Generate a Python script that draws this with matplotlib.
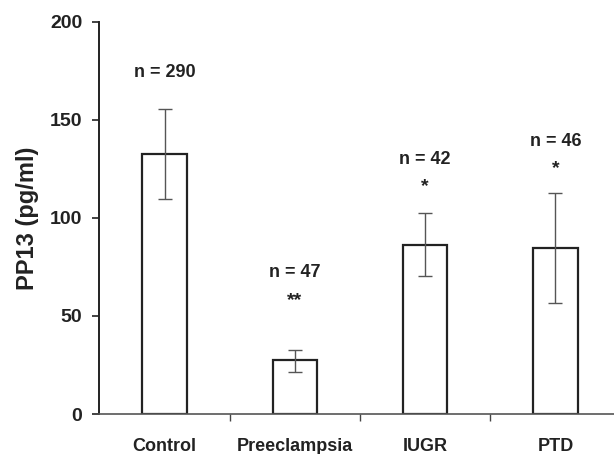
import matplotlib.pyplot as plt
import numpy as np

# data
groups = ['Control', 'Preeclampsia', 'IUGR', 'PTD']
means = [132.5, 27.5, 86.2, 84.9]
err_hi = [155.4, 32.7, 102.4, 112.9]
err_lo = [109.5, 21.6, 70.6, 56.8]
n_labels = ['n = 290', 'n = 47', 'n = 42', 'n = 46']
n_pos = [174, 72.4, 130, 139]
stars = ['', '**', '*', '*']
star_pos = [0, 58, 116, 125]

plt.rcParams['font.family'] = ['Liberation Sans', 'DejaVu Sans']

fig = plt.figure(figsize=(6.14, 4.54), dpi=100)
ax = fig.add_axes([0.161, 0.088, 0.839, 0.864])

x = np.arange(len(groups))
means_a = np.array(means)
yerr = [means_a - np.array(err_lo), np.array(err_hi) - means_a]

ax.bar(x, means, width=0.34, color='white', edgecolor='#222222', linewidth=1.6, zorder=2)
ax.errorbar(x, means, yerr=yerr, fmt='none', ecolor='#555555', elinewidth=1.0,
            capsize=5, capthick=1.0, zorder=3)

for xi, lab, yp in zip(x, n_labels, n_pos):
    ax.text(xi, yp, lab, ha='center', va='center', fontsize=13, fontweight='bold', color='#222222')
for xi, s, yp in zip(x, stars, star_pos):
    if s:
        ax.text(xi, yp, s, ha='center', va='center', fontsize=14, fontweight='bold', color='#222222')

ax.set_xlim(-0.505, 3.45)
ax.set_ylim(0, 200)
ax.set_yticks([0, 50, 100, 150, 200])
ax.set_xticks([0.5, 1.5, 2.5])
ax.set_xticklabels([])
ax.set_xticks(x, minor=True)
ax.set_xticklabels(groups, minor=True)
ax.tick_params(axis='x', which='minor', length=0, pad=17)
ax.tick_params(axis='x', which='major', length=5, direction='out', color='#444444', width=1)
ax.tick_params(axis='y', length=5, direction='out', color='#222222', width=1.2, pad=7)
for lab in ax.get_xticklabels(minor=True):
    lab.set_fontweight('bold')
    lab.set_fontsize(13)
    lab.set_color('#222222')
for lab in ax.get_yticklabels():
    lab.set_fontweight('bold')
    lab.set_fontsize(14)
    lab.set_color('#222222')

ax.spines['top'].set_visible(False)
ax.spines['right'].set_visible(False)
ax.spines['left'].set_color('#222222')
ax.spines['left'].set_linewidth(1.4)
ax.spines['bottom'].set_color('#555555')
ax.spines['bottom'].set_linewidth(1.2)

ax.set_ylabel('PP13 (pg/ml)', fontsize=17, fontweight='bold', color='#222222', labelpad=8)

fig.savefig('out.png', dpi=100)
